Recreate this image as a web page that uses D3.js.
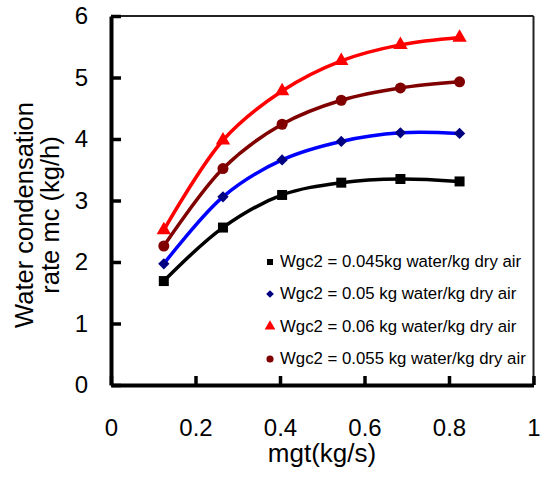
<!DOCTYPE html>
<html>
<head>
<meta charset="utf-8">
<script src="https://cdn.jsdelivr.net/npm/d3@7"></script>
<style>
  html, body { margin: 0; padding: 0; background: #fff; }
  svg { display: block; font-family: "Liberation Sans", Arial, sans-serif; }
</style>
</head>
<body>
<svg id="chart" width="541" height="479"></svg>
<script>
// ---- data ----
const mgt = [0.125, 0.265, 0.405, 0.545, 0.685, 0.825];
const w045 = [1.69, 2.56, 3.09, 3.29, 3.35, 3.31];
const w050 = [1.97, 3.06, 3.66, 3.96, 4.10, 4.09];
const w060 = [2.52, 3.98, 4.78, 5.27, 5.53, 5.65];
const w055 = [2.26, 3.52, 4.24, 4.63, 4.83, 4.93];
const seriesNames = [
  "Wgc2 = 0.045kg water/kg dry air",
  "Wgc2 = 0.05 kg water/kg dry air",
  "Wgc2 = 0.06 kg water/kg dry air",
  "Wgc2 = 0.055 kg water/kg dry air"
];
const xTicks = [0, 0.2, 0.4, 0.6, 0.8, 1];
const yTicks = [0, 1, 2, 3, 4, 5, 6];
const xTitle = "mgt(kg/s)";
const yTitle = ["Water condensation", "rate mc (kg/h)"];

// ---- styles ----
const series = [
  { name: seriesNames[0], values: w045, line: "#000000", fill: "#000000", shape: d3.symbolSquare, rot: 0, size: 100, lsize: 36 },
  { name: seriesNames[1], values: w050, line: "#0000ff", fill: "#000080", shape: d3.symbolSquare, rot: 45, size: 64, lsize: 30 },
  { name: seriesNames[2], values: w060, line: "#ff0000", fill: "#ff0000", shape: d3.symbolTriangle, rot: 0, size: 90, lsize: 50 },
  { name: seriesNames[3], values: w055, line: "#800000", fill: "#800000", shape: d3.symbolCircle, rot: 0, size: 95, lsize: 40 }
];

const svg = d3.select("#chart");
const x = d3.scaleLinear().domain([0, 1]).range([111, 533.5]);
const y = d3.scaleLinear().domain([0, 6]).range([385, 16]);

// frame (top and right)
svg.append("line").attr("x1", x(0)).attr("x2", x(1)).attr("y1", y(6)).attr("y2", y(6))
  .attr("stroke", "#222").attr("stroke-width", 2);
svg.append("line").attr("x1", x(1)).attr("x2", x(1)).attr("y1", y(6)).attr("y2", y(0))
  .attr("stroke", "#222").attr("stroke-width", 2);

// axes
const yAxis = d3.axisLeft(y).tickValues(yTicks).tickFormat(d3.format("d"))
  .tickSizeInner(-10).tickSizeOuter(0).tickPadding(23);
const gy = svg.append("g").attr("transform", `translate(${x(0)},0)`).call(yAxis);
gy.select(".domain").attr("stroke", "#000").attr("stroke-width", 4);
gy.selectAll(".tick line").attr("stroke", "#000").attr("stroke-width", 3.5);
gy.selectAll(".tick text").attr("font-size", 24).attr("fill", "#000")
  .attr("font-family", "Liberation Sans, Arial, sans-serif");

const xAxis = d3.axisBottom(x).tickValues(xTicks).tickFormat(d => d === 0 || d === 1 ? String(d) : d.toFixed(1))
  .tickSizeInner(-9).tickSizeOuter(0).tickPadding(34);
const gx = svg.append("g").attr("transform", `translate(0,${y(0)})`).call(xAxis);
gx.select(".domain").attr("stroke", "#000").attr("stroke-width", 4);
gx.selectAll(".tick line").attr("stroke", "#000").attr("stroke-width", 3.5);
gx.selectAll(".tick text").attr("font-size", 24).attr("fill", "#000")
  .attr("font-family", "Liberation Sans, Arial, sans-serif");

// axis titles
svg.append("text").attr("x", 322).attr("y", 462).attr("text-anchor", "middle")
  .attr("font-size", 26).attr("fill", "#000").text(xTitle);
const yt = svg.append("text").attr("transform", "translate(33,215) rotate(-90)")
  .attr("text-anchor", "middle").attr("font-size", 25.5).attr("fill", "#000");
yt.append("tspan").attr("x", 0).attr("y", 0).text(yTitle[0]);
yt.append("tspan").attr("x", 0).attr("y", 25.5).text(yTitle[1]);

// lines and markers
const line = d3.line().x((d, i) => x(mgt[i])).y(d => y(d)).curve(d3.curveCatmullRom.alpha(0.5));
series.forEach(s => {
  svg.append("path").attr("d", line(s.values)).attr("fill", "none")
    .attr("stroke", s.line).attr("stroke-width", 3.5).attr("stroke-linejoin", "round");
  svg.append("g").selectAll("path").data(s.values).join("path")
    .attr("transform", (d, i) => `translate(${x(mgt[i])},${y(d)}) rotate(${s.rot})`)
    .attr("d", d3.symbol().type(s.shape).size(s.size))
    .attr("fill", s.fill);
});

// legend
const legendRows = [267, 299, 331.5, 364];
series.forEach((s, i) => {
  const g = svg.append("g").attr("transform", `translate(270,${legendRows[i] - 5})`);
  g.append("path").attr("d", d3.symbol().type(s.shape).size(s.lsize))
    .attr("transform", `rotate(${s.rot})`).attr("fill", s.fill);
  g.append("text").attr("x", 10).attr("y", 5).attr("font-size", 16.8).attr("fill", "#000").text(s.name);
});
</script>
</body>
</html>
